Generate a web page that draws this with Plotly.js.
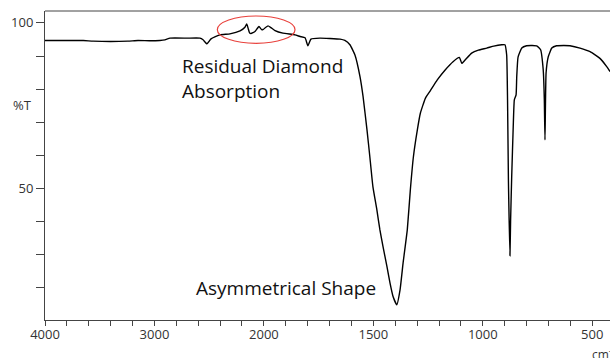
<!DOCTYPE html>
<html>
<head>
<meta charset="utf-8">
<script src="https://cdn.plot.ly/plotly-3.0.1.min.js"></script>
<style>html,body{margin:0;padding:0;background:#fff;}#chart{width:610px;height:358px;}</style>
</head>
<body>
<div id="chart"></div>
<script>
// Wavenumber (cm-1) and transmittance (%T)
const wavenumber = [
  4000, 3800, 3650, 3561, 3400, 3242, 3150, 3041, 2950, 2904, 2858, 2700, 2584, 2556, 2520, 2483,
  2401, 2310, 2218, 2173, 2157, 2145, 2131, 2118, 2081, 2045, 2018, 2000,
  1981, 1968, 1949, 1913, 1858, 1835, 1812, 1799, 1785, 1744, 1700, 1652, 1630, 1607, 1584,
  1561, 1547, 1529, 1516, 1502, 1484, 1470, 1456, 1438, 1424, 1410, 1393,
  1378, 1364, 1345, 1331, 1317, 1299, 1285, 1262, 1240, 1208, 1172, 1136, 1107, 1096, 1081,
  1051, 1020, 982, 950, 914, 899, 891, 887, 883, 876, 873, 868, 861, 856, 848, 845, 839,
  822, 800, 780, 754, 736, 724, 719, 716, 711, 701, 685, 663, 630, 602, 556, 510, 465, 434, 419
];
const transmittance = [
  94.7, 94.7, 94.7, 94.5, 94.4, 94.5, 94.7, 94.6, 94.7, 94.9, 95.4, 95.4, 95.4, 94.9, 93.7, 95.2,
  96.4, 96.7, 97.6, 98.7, 99.7, 98.5, 97.0, 96.8, 97.4, 98.9, 97.9, 98.2,
  99.1, 98.6, 97.7, 96.9, 96.4, 95.9, 95.5, 93.1, 95.1, 95.4, 95.3, 95.1, 94.7, 93.4, 90.3,
  83.8, 77.8, 67.7, 59.6, 50.6, 43.6, 37.5, 32.5, 26.5, 21.5, 17.4, 14.9,
  19.4, 27.6, 37.5, 49.6, 59.6, 67.7, 72.8, 77.3, 79.5, 82.8, 85.8, 88.3, 89.6, 87.8, 88.8,
  90.9, 91.8, 92.4, 93.0, 93.4, 93.4, 90.3, 76.8, 52.6, 29.7, 40.5, 53.6, 68.7, 76.8, 78.3, 83.8, 89.7,
  92.4, 93.1, 93.2, 93.1, 91.9, 85.8, 76.8, 64.7, 84.9, 89.8, 92.4, 93.1, 93.2, 93.1, 92.4, 91.3, 89.3, 86.8, 85.3
];
const breakWavenumber = 2000;
const highTicks = [4000, 3800, 3600, 3400, 3200, 3000, 2800, 2600, 2400, 2200];
const highTickLabels = ['4000', '', '', '', '', '3000', '', '', '', ''];
const lowTicks = [2000, 1900, 1800, 1700, 1600, 1500, 1400, 1300, 1200, 1100, 1000, 900, 800, 700, 600, 500];
const lowTickLabels = ['2000', '', '', '', '', '1500', '', '', '', '', '1000', '', '', '', '', '500'];
const yTicks = [20, 30, 40, 50, 60, 70, 80, 90, 100];
const yTickLabels = ['', '', '', '50', '', '', '', '', '100'];

const hiX = [], hiY = [], loX = [], loY = [];
wavenumber.forEach((w, i) => {
  if (w >= breakWavenumber) { hiX.push(w); hiY.push(transmittance[i]); }
  if (w <= breakWavenumber) { loX.push(w); loY.push(transmittance[i]); }
});

const axisColor = '#444';
const textColor = '#333';
const font = 'Open Sans, Noto Sans, sans-serif';
const split = 0.3874;

const line = {color: '#000', width: 1.4, shape: 'spline', smoothing: 0.4};
const traces = [
  {x: hiX, y: hiY, xaxis: 'x', yaxis: 'y', mode: 'lines', line: line, hoverinfo: 'skip'},
  {x: loX, y: loY, xaxis: 'x2', yaxis: 'y', mode: 'lines', line: line, hoverinfo: 'skip'}
];

const xCommon = {
  showgrid: false, zeroline: false, showline: true, linecolor: axisColor, linewidth: 1,
  ticks: 'outside', ticklen: 5, tickwidth: 1, tickcolor: axisColor, ticklabelstandoff: -3,
  tickfont: {family: font, size: 13, color: textColor}, tickmode: 'array', anchor: 'y', fixedrange: true
};

const layout = {
  width: 610, height: 358,
  margin: {l: 45, r: 0, t: 11, b: 38},
  paper_bgcolor: '#fff', plot_bgcolor: '#fff',
  showlegend: false,
  font: {family: font, color: textColor},
  xaxis: Object.assign({}, xCommon, {domain: [0, split], range: [4000, 2000], tickvals: highTicks, ticktext: highTickLabels}),
  xaxis2: Object.assign({}, xCommon, {domain: [split, 1], range: [2000, 419], tickvals: lowTicks, ticktext: lowTickLabels}),
  yaxis: {
    range: [10.3, 103.6], anchor: 'x', showgrid: false, zeroline: false, showline: true,
    linecolor: axisColor, linewidth: 1, ticks: 'outside', ticklen: 8, tickwidth: 1, tickcolor: axisColor,
    tickmode: 'array', tickvals: yTicks, ticktext: yTickLabels,
    tickfont: {family: font, size: 13, color: textColor}, fixedrange: true
  },
  shapes: [
    {type: 'line', xref: 'paper', yref: 'paper', x0: 0, x1: 1, y0: 1, y1: 1, line: {color: axisColor, width: 1}},
    {type: 'circle', xref: 'paper', yref: 'paper', x0: 0.305, x1: 0.4425, y0: 0.8955, y1: 0.9838, line: {color: '#e8413c', width: 1.2}}
  ],
  annotations: [
    {text: 'Residual Diamond<br>Absorption', xref: 'paper', yref: 'paper', x: 0.2395, y: 0.872,
     xanchor: 'left', yanchor: 'top', align: 'left', showarrow: false,
     font: {family: font, size: 19, color: '#111'}},
    {text: 'Asymmetrical Shape', xref: 'paper', yref: 'paper', x: 0.2635, y: 0.104,
     xanchor: 'left', yanchor: 'middle', align: 'left', showarrow: false,
     font: {family: font, size: 19, color: '#111'}},
    {text: '%T', xref: 'paper', yref: 'paper', x: -0.04, y: 0.696, xanchor: 'center', yanchor: 'middle',
     showarrow: false, font: {family: font, size: 13, color: textColor}},
    {text: 'cm<sup>-1</sup>', xref: 'paper', yref: 'paper', x: 0.9646, y: -0.11, xanchor: 'left', yanchor: 'middle',
     showarrow: false, font: {family: font, size: 12, color: textColor}}
  ]
};

Plotly.newPlot('chart', traces, layout, {displayModeBar: false, staticPlot: true});
</script>
</body>
</html>
